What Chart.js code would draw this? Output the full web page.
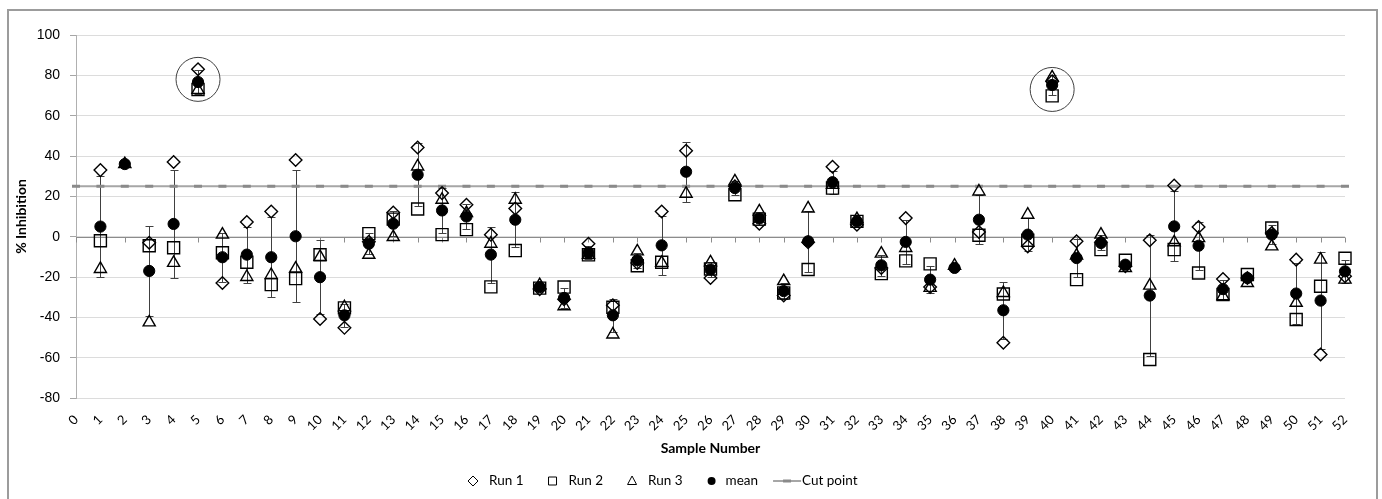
<!DOCTYPE html>
<html>
<head>
<meta charset="utf-8">
<script src="https://cdn.jsdelivr.net/npm/chart.js@4.4.1/dist/chart.umd.min.js"></script>
<style>
html,body{margin:0;padding:0;background:#fff;}
#wrap{position:relative;width:1382px;height:499px;overflow:hidden;background:#fff;}
#frame{position:absolute;left:7px;top:9px;width:1371px;height:500px;border:2px solid #9c9c9c;box-sizing:border-box;pointer-events:none;}
canvas{position:absolute;left:0;top:0;}
</style>
</head>
<body>
<div id="wrap"><canvas id="c" width="1382" height="499"></canvas><div id="frame"></div></div>
<script>
// ---- data ----
const samples = [1,2,3,4,5,6,7,8,9,10,11,12,13,14,15,16,17,18,19,20,21,22,23,24,25,26,
                 27,28,29,30,31,32,33,34,35,36,37,38,39,40,41,42,43,44,45,46,47,48,49,50,51,52];
const run1 = [33,null,-3,37,83,-23,7.3,12.5,38,-40.8,-45.2,-2.5,12,44.2,21.6,15.8,1,14,-26,-31,-3.5,-34,-13,12.5,42.6,-20.5,
              25,6.4,-29.2,-2.8,34.7,5.9,-15.5,9.2,-25,null,2.3,-52.6,-4.8,77,-2.3,-2.8,-14.7,-1.8,25.4,4.8,-21,-20.5,1.8,-11.4,-58.4,-19.6];
const run2 = [-2,null,-4.5,-5.5,73,-8,-12.7,-23.8,-20.8,-9,-35.3,1.5,8.7,13.7,1,3.5,-24.9,-6.9,-25.5,-25,-9,-35,-14.4,-12.7,null,-16,
              20.8,8.7,-27.9,-16.3,24.1,7.6,-18.3,-12,-13.5,null,0.7,-28.4,-1.8,69.8,-21.3,-6.4,-11.7,-60.9,-6.4,-18,-28.7,-18.8,4.3,-41.1,-24.6,-10.7];
const run3 = [-16,36,-42.5,-13,72.8,1,-20,-19,-15.8,-10,-35,-9,-0.2,34.8,18.3,11.7,-3.5,18.3,-24,-34.5,-9,-48.5,-7.3,-13,21.3,-12.7,
              27.4,12.5,-22,14,25.7,8.7,-8.4,-5.6,-25.4,-14.4,22.4,-27.9,10.9,79,-9.4,1,-15.5,-24.3,-2.8,-0.7,-29.5,-23,-4.8,-32.8,-11.4,-21.3];
const meanVals = [5,36,-17,6.3,76.7,-10.2,-8.9,-10.2,0.2,-20.1,-39,-3.5,6.4,30.7,13,10,-8.9,8.4,-25,-30.4,-8,-39,-11.7,-4.3,32.2,-16.3,
              24.1,9,-27,-2.3,27,7.6,-14.2,-2.6,-21.3,-15.5,8.4,-36.5,1,75.2,-10.6,-3.1,-13.9,-29.2,5.1,-4.5,-26,-20.5,1,-28.2,-31.7,-17.2];
const sdVals = [25.2,0.5,22.4,27,5.8,12.1,13.9,19.8,32.7,18.2,5.8,5.3,6.2,15.7,11,6.1,13.9,13.6,1,4.8,3.2,8.1,3.7,14.6,14.8,3.9,
              3.3,3.1,3.8,15.2,5.7,1.4,5.1,10.9,6.8,1,12.1,14.1,8.3,4.8,9.6,3.7,2,29.9,17.4,11.9,4.7,2.1,4.7,15.3,24.2,5.7];
const cutPoint = 25;
const xTicks = [0,1,2,3,4,5,6,7,8,9,10,11,12,13,14,15,16,17,18,19,20,21,22,23,24,25,26,
                27,28,29,30,31,32,33,34,35,36,37,38,39,40,41,42,43,44,45,46,47,48,49,50,51,52];
const yTicks = [-80,-60,-40,-20,0,20,40,60,80,100];
const flagged = [{sample:5, value:78}, {sample:40, value:73}];
const seriesNames = ['Run 1','Run 2','Run 3','mean','Cut point'];

function pts(vals){
  const out = [];
  samples.forEach((s,i)=>{ if (vals[i] !== null) out.push({x:s, y:vals[i]}); });
  return out;
}

const zeroAxisPlugin = {
  id:'zeroAxis',
  beforeDatasetsDraw(chart){
    const {ctx, scales:{x,y}} = chart;
    const py = Math.round(y.getPixelForValue(0)) + 0.5;
    ctx.save();
    ctx.strokeStyle = '#8c8c8c';
    ctx.lineWidth = 1;
    ctx.beginPath();
    ctx.moveTo(x.getPixelForValue(xTicks[0]), py);
    ctx.lineTo(x.getPixelForValue(xTicks[xTicks.length-1]), py);
    xTicks.forEach(t=>{
      const px = Math.round(x.getPixelForValue(t)) + 0.5;
      ctx.moveTo(px, py); ctx.lineTo(px, py + 5);
    });
    ctx.stroke();
    ctx.restore();
  }
};

const errorBarPlugin = {
  id:'errorBars',
  beforeDatasetsDraw(chart){
    const {ctx, scales:{x,y}} = chart;
    ctx.save();
    ctx.strokeStyle = '#404040';
    ctx.lineWidth = 1;
    ctx.beginPath();
    samples.forEach((s,i)=>{
      const m = meanVals[i], e = sdVals[i];
      const px = Math.round(x.getPixelForValue(s)) + 0.5;
      const top = Math.round(y.getPixelForValue(m + e)) + 0.5;
      const bot = Math.round(y.getPixelForValue(m - e)) + 0.5;
      ctx.moveTo(px, top); ctx.lineTo(px, bot);
      ctx.moveTo(px - 4, top); ctx.lineTo(px + 4, top);
      ctx.moveTo(px - 4, bot); ctx.lineTo(px + 4, bot);
    });
    ctx.stroke();
    ctx.restore();
  }
};

const circlePlugin = {
  id:'flagCircles',
  afterDatasetsDraw(chart){
    const {ctx, scales:{x,y}} = chart;
    ctx.save();
    ctx.strokeStyle = '#404040';
    ctx.lineWidth = 1;
    flagged.forEach(f=>{
      ctx.beginPath();
      ctx.arc(x.getPixelForValue(f.sample), y.getPixelForValue(f.value), 22, 0, Math.PI*2);
      ctx.stroke();
    });
    ctx.restore();
  }
};

function drawMarker(ctx, style, cx, cy){
  ctx.beginPath();
  if (style === 'rectRot'){
    const r = 5;
    ctx.moveTo(cx - r, cy); ctx.lineTo(cx, cy - r); ctx.lineTo(cx + r, cy); ctx.lineTo(cx, cy + r); ctx.closePath();
    ctx.stroke();
  } else if (style === 'rect'){
    const h = 4;
    ctx.rect(cx - h, cy - h, 2*h, 2*h); ctx.stroke();
  } else if (style === 'triangle'){
    ctx.moveTo(cx, cy - 5); ctx.lineTo(cx + 4.5, cy + 3.5); ctx.lineTo(cx - 4.5, cy + 3.5); ctx.closePath();
    ctx.stroke();
  } else if (style === 'circle'){
    ctx.arc(cx, cy, 4, 0, Math.PI*2); ctx.fill();
  }
}

const legendPlugin = {
  id:'customLegend',
  afterDraw(chart){
    const ctx = chart.ctx;
    const styles = ['rectRot','rect','triangle','circle','line'];
    const cy = 481;
    let x = 473;
    ctx.save();
    ctx.font = '13.5px Lato';
    ctx.textBaseline = 'middle';
    ctx.fillStyle = '#000';
    ctx.strokeStyle = '#000';
    ctx.lineWidth = 1;
    seriesNames.forEach((name,i)=>{
      const st = styles[i];
      let tx;
      if (st === 'line'){
        const x0 = x - 14;
        ctx.save();
        ctx.strokeStyle = '#a6a6a6'; ctx.lineWidth = 2;
        ctx.beginPath(); ctx.moveTo(x0, cy); ctx.lineTo(x0 + 28, cy); ctx.stroke();
        ctx.strokeStyle = '#8a8a8a'; ctx.lineWidth = 3;
        ctx.beginPath(); ctx.moveTo(x0 + 10, cy); ctx.lineTo(x0 + 18, cy); ctx.stroke();
        ctx.restore();
        tx = x0 + 29;
      } else {
        ctx.fillStyle = '#000';
        drawMarker(ctx, st, x, cy);
        tx = x + (st === 'circle' ? 14 : 16);
      }
      ctx.fillStyle = '#000';
      ctx.fillText(name, tx, cy);
      x = tx + ctx.measureText(name).width + 29;
    });
    ctx.restore();
  }
};

function build(){
  const cutData = xTicks.map(t=>({x:t, y:cutPoint}));
  new Chart(document.getElementById('c').getContext('2d'), {
    type:'scatter',
    data:{
      datasets:[
        {label:seriesNames[0], data:pts(run1), pointStyle:'rectRot', pointRadius:6.3, pointBorderWidth:1.4,
         borderColor:'#000', backgroundColor:'rgba(0,0,0,0)', order:5, clip:false},
        {label:seriesNames[1], data:pts(run2), pointStyle:'rect', pointRadius:8.5, pointBorderWidth:1.4,
         borderColor:'#000', backgroundColor:'rgba(0,0,0,0)', order:5, clip:false},
        {label:seriesNames[2], data:pts(run3), pointStyle:'triangle', pointRadius:7, pointBorderWidth:1.4,
         borderColor:'#000', backgroundColor:'rgba(0,0,0,0)', order:5, clip:false},
        {label:seriesNames[3], data:pts(meanVals), pointStyle:'circle', pointRadius:5.6, pointBorderWidth:1,
         borderColor:'#000', backgroundColor:'#000', order:1, clip:false},
        {label:seriesNames[4], data:cutData, showLine:true, borderColor:'#a6a6a6', borderWidth:2,
         pointStyle:'line', pointRadius:4, pointBorderWidth:3, pointBorderColor:'#8a8a8a',
         backgroundColor:'#8a8a8a', fill:false, order:10, clip:false}
      ]
    },
    options:{
      responsive:false,
      animation:false,
      devicePixelRatio:1,
      events:[],
      layout:{padding:{left:0, right:37, top:35, bottom:37}},
      plugins:{legend:{display:false}, tooltip:{enabled:false}},
      scales:{
        x:{
          type:'linear', position:'bottom', min:xTicks[0], max:xTicks[xTicks.length-1],
          afterFit(s){ s.height = 64; },
          afterBuildTicks(s){ s.ticks = xTicks.map(v=>({value:v})); },
          grid:{display:false},
          border:{display:false},
          ticks:{stepSize:1, autoSkip:false, minRotation:45, maxRotation:45, padding:6,
                 color:'#000', font:{family:'Lato', size:13}},
          title:{display:true, text:'Sample Number', color:'#000',
                 font:{family:'Lato', size:14, weight:'bold'}, padding:{top:0, bottom:5}}
        },
        y:{
          min:yTicks[0], max:yTicks[yTicks.length-1],
          afterFit(s){ s.width = 76; },
          afterBuildTicks(s){ s.ticks = yTicks.map(v=>({value:v})); },
          grid:{color:'#dcdcdc', tickColor:'#a6a6a6', tickLength:6},
          border:{display:true, color:'#b0b0b0'},
          ticks:{padding:10, color:'#000', font:{family:'Liberation Sans', size:14}},
          title:{display:true, text:'% Inhibition', color:'#000',
                 font:{family:'Lato', size:14, weight:'bold'}, padding:{top:13, bottom:0}}
        }
      }
    },
    plugins:[zeroAxisPlugin, errorBarPlugin, circlePlugin, legendPlugin]
  });
}

Promise.all([
  document.fonts.load('13px Lato'),
  document.fonts.load('bold 14px Lato'),
  document.fonts.load('14px "Liberation Sans"')
]).then(build, build);
</script>
</body>
</html>
